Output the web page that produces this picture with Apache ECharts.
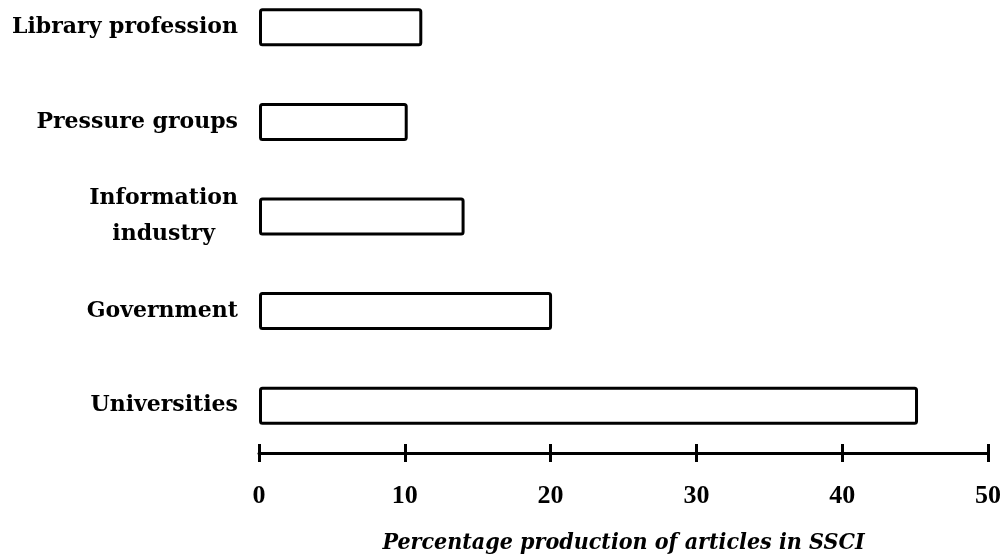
<!DOCTYPE html>
<html>
<head>
<meta charset="utf-8">
<script src="https://cdn.jsdelivr.net/npm/echarts@6/dist/echarts.min.js"></script>
<style>html,body{margin:0;padding:0;background:#fff}#c{width:1008px;height:559px}</style>
</head>
<body>
<div id="c"></div>
<script>
var categories = ['Universities', 'Government', 'Information\nindustry', 'Pressure groups', 'Library profession'];
var values = [45.2, 20.1, 14.1, 10.2, 11.2];
var xTicks = [0, 10, 20, 30, 40, 50];
var axisTitle = 'Percentage production of articles in SSCI';

var chart = echarts.init(document.getElementById('c'));
var labelFont = 'DejaVu Serif';
chart.setOption({
  backgroundColor: '#fff',
  animation: false,
  grid: { left: 259, right: 20, top: -20, bottom: 106, containLabel: false, outerBoundsMode: 'none' },
  xAxis: [{
    type: 'value', min: xTicks[0], max: xTicks[xTicks.length - 1], interval: 10,
    position: 'bottom',
    splitLine: { show: false },
    axisLine: { show: true, lineStyle: { color: '#000', width: 3 } },
    axisTick: { show: true, length: 9, lineStyle: { color: '#000', width: 3 } },
    axisLabel: { color: '#000', fontFamily: 'Liberation Serif', fontWeight: 'bold', fontSize: 26, margin: 30 },
    name: axisTitle, nameLocation: 'middle', nameGap: 79,
    nameTextStyle: { color: '#000', fontFamily: 'DejaVu Serif Condensed', fontStyle: 'italic', fontWeight: 'bold', fontSize: 23 }
  }, {
    type: 'value', min: xTicks[0], max: xTicks[xTicks.length - 1], interval: 10,
    position: 'bottom',
    splitLine: { show: false },
    axisLine: { show: false },
    axisTick: { show: true, inside: true, length: 9, lineStyle: { color: '#000', width: 3 } },
    axisLabel: { show: false }
  }],
  yAxis: {
    type: 'category', data: categories,
    axisLine: { show: false }, axisTick: { show: false },
    axisLabel: {
      margin: 21,
      formatter: function (v) {
        return v.split('\n').map(function (s) { return '{c|' + s + '}'; }).join('\n');
      },
      rich: { c: { align: 'center', color: '#000', fontFamily: labelFont, fontWeight: 'bold', fontSize: 22, lineHeight: 36 } }
    }
  },
  series: [{
    type: 'bar', data: values, barWidth: 38, xAxisIndex: 0,
    itemStyle: { color: '#fff', borderColor: '#000', borderWidth: 3, borderRadius: 2 },
    silent: true
  }]
});
</script>
</body>
</html>
